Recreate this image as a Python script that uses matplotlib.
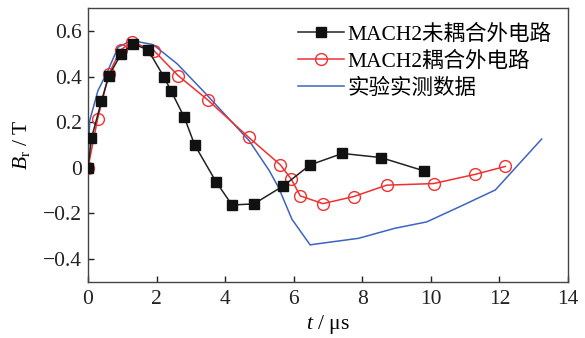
import matplotlib
matplotlib.use('Agg')
import matplotlib.pyplot as plt

plt.rcParams['font.family'] = ['Liberation Serif', 'Noto Sans CJK SC']
plt.rcParams['mathtext.fontset'] = 'custom'
plt.rcParams['mathtext.rm'] = 'Liberation Serif'
plt.rcParams['mathtext.it'] = 'Liberation Serif:italic'
plt.rcParams['axes.unicode_minus'] = True

# MACH2 未耦合外电路
t_uncoupled = [0, 0.10, 0.39, 0.61, 0.97, 1.31, 1.75, 2.21, 2.42, 2.81, 3.11,
               3.73, 4.20, 4.84, 5.70, 6.48, 7.42, 8.54, 9.79]
b_uncoupled = [0, 0.129, 0.291, 0.404, 0.500, 0.544, 0.517, 0.400, 0.338, 0.221, 0.101,
               -0.060, -0.163, -0.158, -0.079, 0.013, 0.063, 0.045, -0.013]

# MACH2 耦合外电路
t_coupled = [0, 0.28, 0.61, 0.95, 1.29, 1.92, 2.63, 3.49, 4.69, 5.61, 5.93,
             6.19, 6.85, 7.75, 8.71, 10.08, 11.28, 12.17]
b_coupled = [0, 0.214, 0.412, 0.517, 0.551, 0.514, 0.404, 0.298, 0.133, 0.013, -0.050,
             -0.123, -0.157, -0.126, -0.076, -0.069, -0.029, 0.006]

# 实验实测数据
t_exp = [0, 0.05, 0.29, 0.58, 0.88, 1.27, 1.90, 2.60, 3.44, 4.70, 5.29, 5.56,
         5.95, 6.48, 6.60, 7.89, 8.95, 9.88, 10.89, 11.88, 13.23]
b_exp = [0, 0.207, 0.338, 0.426, 0.529, 0.558, 0.540, 0.456, 0.324, 0.119, -0.013, -0.087,
         -0.226, -0.338, -0.335, -0.309, -0.265, -0.237, -0.167, -0.097, 0.126]

fig = plt.figure(figsize=(5.85, 3.38), dpi=100)
ax = fig.add_axes([0.1504, 0.166, 0.8206, 0.810])

ax.plot(t_exp, b_exp, color='#3c64c0', lw=1.1, label='实验实测数据', zorder=2)
ax.plot(t_coupled, b_coupled, color='#f03030', lw=1.1, marker='o', markersize=8.5,
        markerfacecolor='none', markeredgecolor='#f03030', markeredgewidth=1.0,
        label='MACH2耦合外电路', zorder=3)
ax.plot(t_uncoupled, b_uncoupled, color='#222222', lw=1.1, marker='s', markersize=7,
        markerfacecolor='#111111', markeredgecolor='#111111',
        label='MACH2未耦合外电路', zorder=4)

ax.set_xlim(0, 14)
ax.set_ylim(-0.5, 0.7)
ax.set_xticks(range(0, 15, 2))
ax.set_yticks([-0.4, -0.2, 0, 0.2, 0.4, 0.6])
ax.set_yticklabels(['\u22120.4', '\u22120.2', '0', '0.2', '0.4', '0.6'])
ax.tick_params(direction='in', length=4, width=1, labelsize=15.5, colors='#222222')
ax.tick_params(axis='x', pad=5.5)
ax.tick_params(axis='y', pad=4.5)
for s in ax.spines.values():
    s.set_color('#444444')
    s.set_linewidth(1)

ax.set_xlabel('$t$ / μs', fontsize=15.5, labelpad=3)
ax.set_ylabel('$B_\\mathrm{r}$ / T', fontsize=15.5, labelpad=8)

h, l = ax.get_legend_handles_labels()
ax.legend(h[::-1], l[::-1], loc='upper right', frameon=False, fontsize=15.5,
          handlelength=2.1, handletextpad=0.2, labelspacing=0.32,
          borderaxespad=0.45, borderpad=0.3)

fig.savefig('out.png', dpi=100)
